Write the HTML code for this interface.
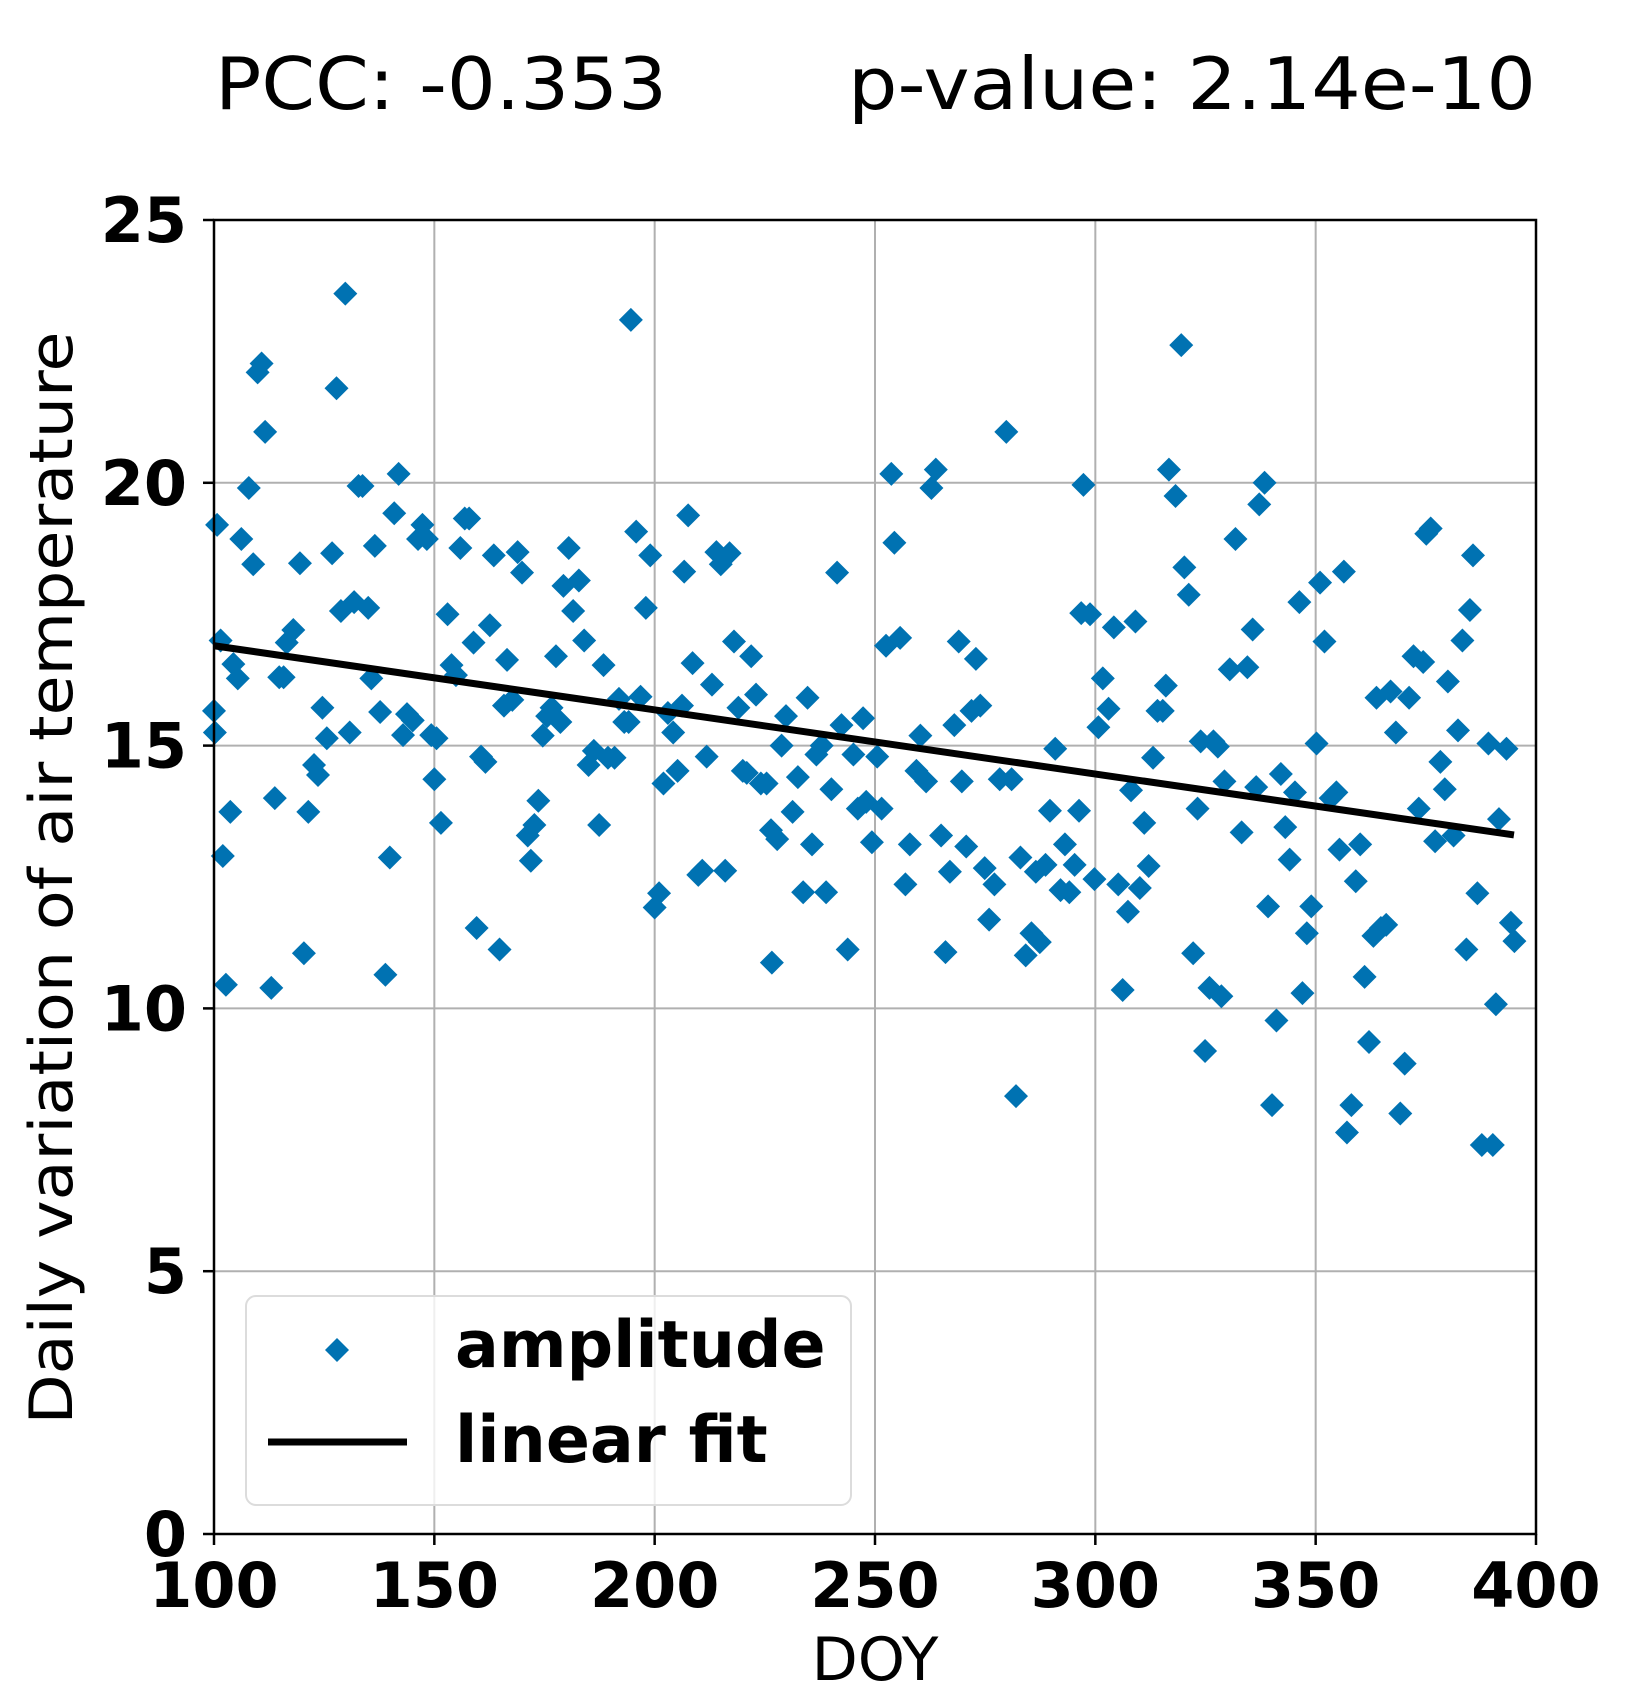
<!DOCTYPE html>
<html>
<head>
<meta charset="utf-8">
<style>
html,body{margin:0;padding:0;background:#fff;}
svg{display:block;font-family:"DejaVu Sans","Liberation Sans",sans-serif;}
</style>
</head>
<body>
<svg id="chart" width="1631" height="1702" viewBox="0 0 1631 1702">
  <text x="215" y="109" font-size="72" textLength="452" lengthAdjust="spacingAndGlyphs">PCC: -0.353</text>
  <text x="848" y="109" font-size="72" textLength="688" lengthAdjust="spacingAndGlyphs">p-value: 2.14e-10</text>
  <g id="grid"></g>
  <g id="points"></g>
  <g id="fit"></g>
  <rect x="214" y="220" width="1322" height="1314" fill="none" stroke="#000" stroke-width="2.5"/>
  <g id="ticks"></g>
  <text x="875" y="1680" font-size="60" text-anchor="middle">DOY</text>
  <text transform="translate(72,878) rotate(-90)" font-size="60" text-anchor="middle" textLength="1093" lengthAdjust="spacingAndGlyphs">Daily variation of air temperature</text>
  <g>
    <rect x="246" y="1296" width="605" height="209" rx="10" fill="#fff" fill-opacity="0.8" stroke="#dcdcdc" stroke-width="2"/>
    <polygon points="337,1338 349,1350 337,1362 325,1350" fill="#0072B2"/>
    <text x="455" y="1367" font-size="65" font-weight="bold">amplitude</text>
    <line x1="268" y1="1442" x2="407" y2="1442" stroke="#000" stroke-width="7"/>
    <text x="455" y="1462" font-size="65" font-weight="bold">linear fit</text>
  </g>
</svg>
<script>
const doy = [100.2,100,100.7,101.5,102,102.7,103.7,104.4,105.4,106.2,107.9,108.9,109.9,110.8,111.6,113,113.8,114.8,115.8,116.5,118,119.5,120.4,121.4,122.7,123.6,124.6,125.6,126.8,127.8,128.8,129.8,130.8,131.8,132.8,133.7,135,135.7,136.5,137.7,138.9,139.9,140.9,141.9,142.9,143.8,145.1,146.3,147.3,148.3,149.3,150,150.5,151.5,153,153.9,154.9,155.9,156.9,157.9,158.9,159.6,160.6,161.6,162.6,163.5,164.8,165.8,166.5,167.7,168.9,169.9,171.2,171.9,172.7,173.6,174.6,175.6,176.6,177.6,178.6,179.3,180.5,181.5,182.8,184,185,186.2,187.4,188.4,189.4,190.9,191.9,193.1,194.1,194.6,195.8,196.8,198,199,200,201,202,203,204.2,205.2,206.2,206.7,207.6,208.6,209.9,210.8,211.8,213,214,215,216,217,218,219,220,220.9,221.9,223,224.1,225.4,226.4,226.6,227.8,228.8,229.8,231.3,232.5,233.7,234.7,235.7,236.7,237.9,238.9,240.1,241.4,242.4,243.8,245.1,246.1,247.3,248,249.3,250.5,251.5,252.5,253.7,254.4,255.7,256.9,257.9,259.4,260.3,261.6,262.8,263.8,265,266,267,268,269,269.7,270.7,271.9,272.9,273.9,274.9,275.9,277.1,278.3,279.8,281,282,283,284.2,285.5,286.5,287.4,288.7,289.7,290.9,292.1,293.1,294.1,295.3,296.3,297.3,296.8,298.8,299.8,300.7,301.7,303,304.2,305.2,306.2,307.4,308.1,309.1,310.1,311.1,312.1,313.1,314.1,315.3,316,316.7,318.2,319.5,320.2,321.2,322.2,323.2,323.9,324.9,325.9,326.8,327.8,328.6,329.3,330.5,331.8,333.2,334.5,335.7,336.5,337.2,338.4,339.2,340.1,341.1,342.1,343.1,344.1,345.3,346.3,347,348,349,350.2,351,352,353.4,354.7,355.4,356.4,357.1,358.1,359.1,360.1,361.1,362.1,363.1,363.8,364.8,366,367,368.2,369.2,370.2,371.2,372.2,373.4,374.4,375.1,376.1,377.1,378.3,379.3,380,381.3,382.3,383.3,384.2,385,385.7,386.7,387.7,389.2,390.2,390.9,391.6,393.3,394.3,395.1];
const amplitude = [15.25,15.66,19.2,17,12.9,10.45,13.74,16.55,16.28,18.93,19.9,18.45,22.1,22.27,20.97,10.39,14,16.3,16.3,16.96,17.2,18.47,11.05,13.74,14.63,14.44,15.72,15.14,18.66,21.8,17.56,23.6,15.25,17.73,19.94,19.94,17.62,16.28,18.8,15.64,10.64,12.87,19.42,20.17,15.2,15.6,15.48,18.93,19.2,18.93,15.2,14.36,15.14,13.53,17.5,16.53,16.34,18.76,19.32,19.32,16.96,11.53,14.79,14.69,17.29,18.62,11.12,15.76,16.63,15.87,18.68,18.29,13.29,12.81,13.49,13.95,15.19,15.56,15.72,16.7,15.45,18.04,18.76,17.56,18.14,17,14.63,14.9,13.49,16.53,14.77,14.77,15.89,15.45,15.45,23.1,19.07,15.93,17.62,18.62,11.92,12.19,14.28,15.62,15.25,14.52,15.76,18.31,19.38,16.57,12.54,12.62,14.79,16.16,18.68,18.45,12.62,18.66,16.98,15.72,14.52,14.48,16.7,15.97,14.28,14.28,13.39,10.87,13.22,15,15.56,13.74,14.4,12.21,15.91,13.12,14.83,15,12.21,14.17,18.29,15.39,11.12,14.83,13.8,15.52,13.93,13.16,14.79,13.8,16.9,20.17,18.86,17.05,12.36,13.12,14.52,15.19,14.32,19.9,20.25,13.29,11.07,12.6,15.39,16.98,14.32,13.08,15.66,16.65,15.76,12.67,11.69,12.36,14.36,20.97,14.36,8.33,12.87,11.01,11.43,12.6,11.26,12.73,13.76,14.94,12.25,13.12,12.21,12.73,13.76,19.96,17.52,17.5,12.46,15.35,16.28,15.7,17.25,12.36,10.35,11.84,14.15,17.36,12.29,13.53,12.71,14.77,15.66,15.66,16.14,20.25,19.75,22.62,18.39,17.87,11.05,13.8,15.08,9.19,10.39,15.08,14.98,10.23,14.32,16.45,18.93,13.35,16.49,17.21,14.21,19.59,20,11.94,8.16,9.77,14.46,13.45,12.83,14.11,17.73,10.29,11.43,11.94,15.04,18.1,16.98,14,14.11,13.02,18.31,7.64,8.16,12.42,13.12,10.6,9.36,11.38,15.91,11.53,11.59,16.03,15.25,8,8.95,15.91,16.7,13.8,16.59,19.03,19.13,13.18,14.69,14.17,16.22,13.29,15.29,17,11.12,17.58,18.62,12.19,7.4,15.04,7.4,10.08,13.6,14.94,11.63,11.28];
const fitDoy = [100, 395];
const fitValue = [16.9, 13.3];
const xTicks = [100,150,200,250,300,350,400];
const yTicks = [0,5,10,15,20,25];

const NS = "http://www.w3.org/2000/svg";
const X0=214, X1=1536, Y0=1534, Y1=220;
function xs(v){return X0+(v-100)/300*(X1-X0);}
function ys(v){return Y0-(v/25)*(Y0-Y1);}
function mk(tag, attrs){const e=document.createElementNS(NS,tag);for(const k in attrs)e.setAttribute(k,attrs[k]);return e;}

const grid=document.getElementById('grid'), ticks=document.getElementById('ticks');
xTicks.forEach(t=>{
  const g=mk('line',{x1:xs(t),x2:xs(t),y1:Y1,y2:Y0,stroke:'#b0b0b0','stroke-width':2});
  
  
  grid.appendChild(g);
  const tk=mk('line',{x1:xs(t),x2:xs(t),y1:Y0,y2:Y0+11,stroke:'#000','stroke-width':2.5});
  
  
  ticks.appendChild(tk);
  const lb=mk('text',{x:xs(t),y:1607,'font-size':62,'font-weight':'bold','text-anchor':'middle'});
  lb.textContent=t;
  
  
  ticks.appendChild(lb);
});
yTicks.forEach(t=>{
  const g=mk('line',{x1:X0,x2:X1,y1:ys(t),y2:ys(t),stroke:'#b0b0b0','stroke-width':2});
  
  
  grid.appendChild(g);
  const tk=mk('line',{x1:X0-11,x2:X0,y1:ys(t),y2:ys(t),stroke:'#000','stroke-width':2.5});
  
  
  ticks.appendChild(tk);
  const lb=mk('text',{x:187,y:ys(t)+22,'font-size':62,'font-weight':'bold','text-anchor':'end'});
  lb.textContent=t;
  
  
  ticks.appendChild(lb);
});
const pts=document.getElementById('points');
doy.forEach((d,i)=>{
  const cx=xs(d), cy=ys(amplitude[i]), r=12;
  const p=mk('polygon',{points:`${cx},${cy-r} ${cx+r},${cy} ${cx},${cy+r} ${cx-r},${cy}`,fill:'#0072B2'});
  
  
  pts.appendChild(p);
});
const fl=mk('line',{x1:xs(fitDoy[0]),y1:ys(fitValue[0]),x2:xs(fitDoy[1]),y2:ys(fitValue[1]),stroke:'#000','stroke-width':7});


document.getElementById('fit').appendChild(fl);
</script>
</body>
</html>
